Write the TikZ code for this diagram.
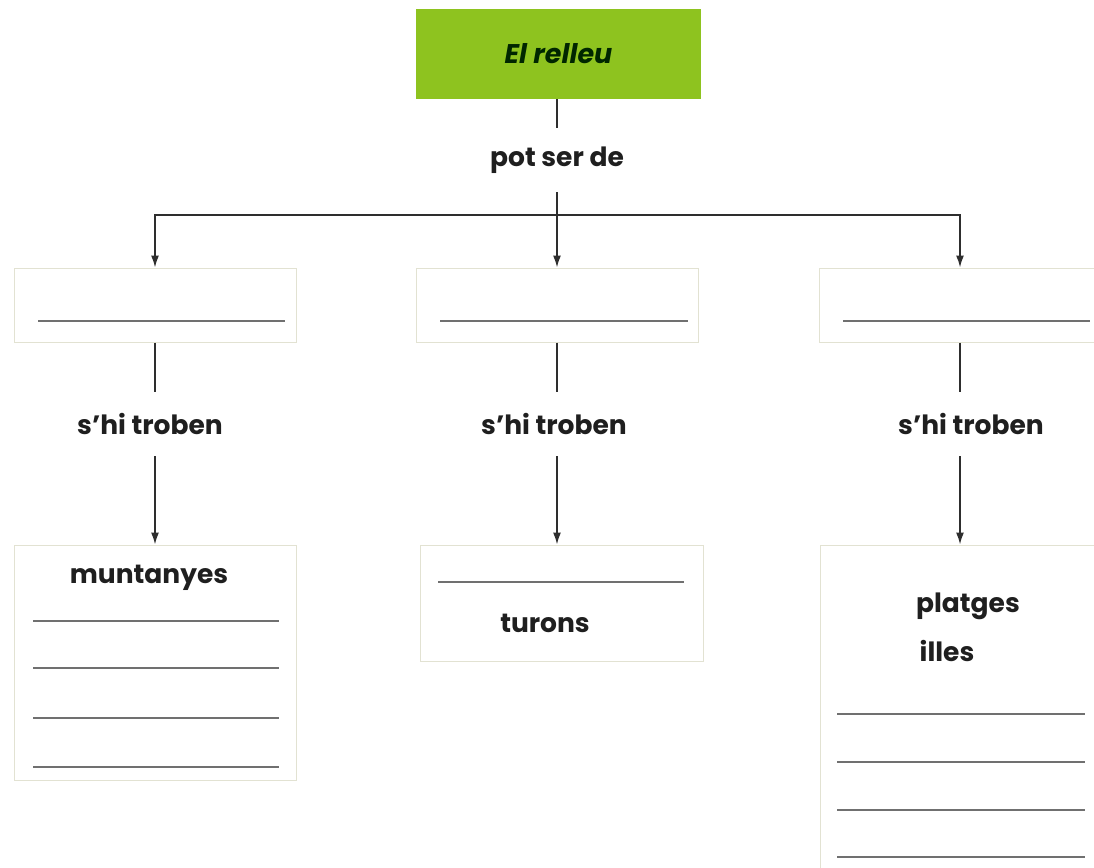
\documentclass[tikz,border=0pt]{standalone}
\usepackage{fontspec}
\setmainfont{Poppins}
\usetikzlibrary{arrows.meta}
\definecolor{boxgreen}{HTML}{8EC31F}
\definecolor{boxedge}{HTML}{E2E2D2}
\definecolor{rulegray}{HTML}{707070}
\definecolor{linkcol}{HTML}{2E2E2E}
\tikzset{
  conbox/.style={draw=boxedge, line width=1pt, fill=white, inner sep=0pt},
  lbl/.style={font=\fontsize{26.5}{29}\selectfont\bfseries, inner sep=0pt, minimum height=64pt, text=black!88},
  word/.style={font=\fontsize{26.5}{29}\selectfont\bfseries, inner sep=0pt, text=black!88},
  link/.style={draw=linkcol, line width=1.6pt},
  arr/.style={link, -{Latex[length=12pt,width=8pt]}},
  wline/.style={draw=rulegray, line width=1.5pt},
}
\begin{document}
\begin{tikzpicture}[x=1pt,y=-1pt]
\clip (0,0) rectangle (1094,867);
\fill[white] (0,0) rectangle (1094,867);
% top
\node[fill=boxgreen, minimum width=285pt, minimum height=90pt, inner sep=0pt,
      font=\fontsize{27}{30}\selectfont\bfseries\itshape, text={black!85!green}] (top) at (558.5,54) {El relleu};
\node[lbl] (pot) at (557,160) {pot ser de};
\coordinate (j) at (557,215);
% middle boxes
\node[conbox, minimum width=282pt, minimum height=74pt] (m1) at (155,305) {};
\node[conbox, minimum width=282pt, minimum height=74pt] (m2) at (557,305) {};
\node[conbox, minimum width=282pt, minimum height=74pt] (m3) at (960,305) {};
\draw[wline] (38,321) -- (285,321);
\draw[wline] (440,321) -- (688,321);
\draw[wline] (843,321) -- (1090,321);
% labels
\node[lbl] (l1) at (150,424) {s'hi troben};
\node[lbl] (l2) at (554,424) {s'hi troben};
\node[lbl] (l3) at (971,424) {s'hi troben};
% bottom boxes
\node[conbox, minimum width=282pt, minimum height=235pt] (b1) at (155,662.5) {};
\node[conbox, minimum width=283pt, minimum height=116pt] (b2) at (561.5,603) {};
\node[conbox, minimum width=282pt, minimum height=334pt] (b3) at (961,712) {};
\node[word] (t1) at (149,578) {muntanyes};
\node[word] (t2) at (545,623) {turons};
\node[word] (t3) at (968,606) {platges};
\node[word] (t4) at (947,651) {illes};
\foreach \y in {621,668,718,767} \draw[wline] (33,\y) -- (279,\y);
\draw[wline] (438,582) -- (684,582);
\foreach \y in {714,762,810,857} \draw[wline] (837,\y) -- (1085,\y);
% connectors
\draw[link] (top.south -| pot.north) -- (pot.north);
\draw[link] (pot.south) -- (j);
\draw[arr] (j) -- (m2.north);
\draw[arr] (j) -| (m1.north);
\draw[arr] (j) -| (m3.north);
\draw[link] (m1.south) -- (m1.south |- l1.north);
\draw[link] (m2.south) -- (m2.south |- l2.north);
\draw[link] (m3.south) -- (m3.south |- l3.north);
\draw[arr] (m1.south |- l1.south) -- (m1.south |- b1.north);
\draw[arr] (m2.south |- l2.south) -- (m2.south |- b2.north);
\draw[arr] (m3.south |- l3.south) -- (m3.south |- b3.north);
\end{tikzpicture}
\end{document}
